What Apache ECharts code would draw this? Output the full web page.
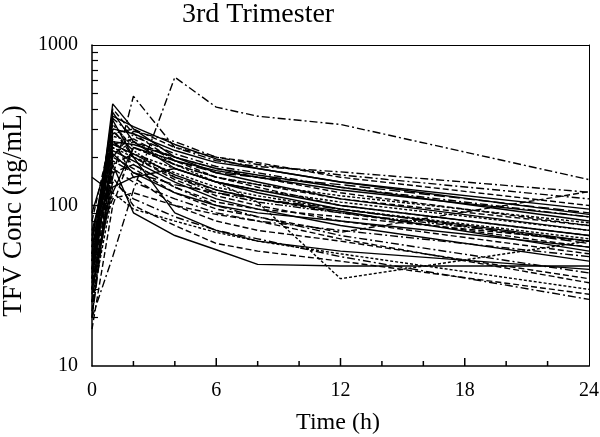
<!DOCTYPE html>
<html>
<head>
<meta charset="utf-8">
<script src="https://cdn.jsdelivr.net/npm/echarts@6/dist/echarts.min.js"></script>
<style>
  html, body { margin: 0; padding: 0; background: #fff; }
  #main { width: 600px; height: 437px; }
</style>
</head>
<body>
<div id="main"></div>
<script>
var myChart = echarts.init(document.getElementById('main'));

// sampling times (h)
var times = [0, 1, 2, 4, 6, 8, 12, 24];

// TFV concentration (ng/mL) per subject, one value per sampling time
var s01 = [20, 48, 125, 630, 410, 360, 320, 145];
var s02 = [30, 150, 480, 230, 190, 175, 162, 121];
var s03 = [40, 430, 300, 200, 160, 140, 110, 70];
var s04 = [25, 400, 280, 190, 150, 130, 100, 65];
var s05 = [50, 380, 250, 170, 140, 120, 95, 60];
var s06 = [35, 350, 270, 210, 175, 160, 130, 85];
var s07 = [60, 320, 230, 180, 150, 135, 115, 78];
var s08 = [45, 300, 280, 220, 185, 170, 140, 95];
var s09 = [30, 280, 300, 230, 200, 185, 150, 100];
var s10 = [150, 120, 230, 190, 165, 150, 125, 85];
var s11 = [20, 250, 200, 150, 125, 110, 90, 55];
var s12 = [55, 240, 260, 190, 160, 150, 135, 90];
var s13 = [35, 220, 190, 140, 110, 95, 75, 45];
var s14 = [40, 200, 290, 250, 200, 180, 155, 110];
var s15 = [25, 180, 210, 170, 140, 125, 105, 70];
var s16 = [70, 210, 160, 120, 100, 90, 80, 55];
var s17 = [45, 160, 180, 130, 105, 95, 85, 60];
var s18 = [30, 130, 150, 170, 140, 125, 100, 65];
var s19 = [50, 290, 220, 150, 120, 105, 90, 60];
var s20 = [17, 100, 230, 180, 150, 135, 110, 75];
var s21 = [60, 340, 200, 90, 70, 60, 52, 40];
var s22 = [40, 260, 150, 100, 80, 70, 60, 35];
var s23 = [45, 180, 90, 65, 53, 43, 42, 42];
var s24 = [30, 150, 100, 75, 58, 52, 45, 28];
var s25 = [25, 120, 95, 80, 68, 60, 50, 30];
var s26 = [55, 230, 180, 130, 100, 85, 65, 38];
var s27 = [35, 270, 250, 180, 140, 105, 35, 60];
var s28 = [30, 200, 170, 120, 95, 85, 68, 122];
var s29 = [65, 250, 240, 200, 170, 155, 130, 80];
var s30 = [20, 190, 160, 135, 120, 110, 95, 58];
var s31 = [80, 300, 200, 145, 115, 100, 80, 50];
var s32 = [28, 170, 140, 110, 90, 80, 70, 48];
var s33 = [38, 360, 310, 240, 195, 170, 140, 88];
var s34 = [48, 230, 200, 160, 130, 115, 95, 62];
var s35 = [22, 210, 250, 200, 170, 150, 120, 75];
var s36 = [90, 240, 210, 155, 125, 110, 92, 52];
var s37 = [33, 140, 110, 85, 70, 62, 48, 26];
var s38 = [50, 110, 120, 100, 88, 80, 62, 33];

var subjects = [s01, s02, s03, s04, s05, s06, s07, s08, s09, s10,
                s11, s12, s13, s14, s15, s16, s17, s18, s19, s20,
                s21, s22, s23, s24, s25, s26, s27, s28, s29, s30,
                s31, s32, s33, s34, s35, s36, s37, s38];

// axis ticks
var xLabels = [0, 6, 12, 18, 24];
var xMajor = [6, 12, 18];
var xMinor = [2, 4, 8, 10, 14, 16, 20, 22];
var yMajor = [10, 100, 1000];
var yMinor = [20, 30, 40, 50, 60, 70, 80, 90, 200, 300, 400, 500, 600, 700, 800, 900];

// line patterns: 0 solid, 1 dashed, 2 short dash, 3 dash-dot, 4 long dash, 5 dash-dot-dot
var dashes = ['solid', [6, 3], [3, 2], [8, 3, 2, 3], [11, 4], [8, 2, 2, 2, 2, 2]];
var kinds = [3, 3, 0, 1, 0, 3, 2, 0, 1, 0,
             1, 4, 0, 3, 2, 0, 1, 0, 5, 1,
             0, 1, 0, 1, 2, 3, 2, 1, 0, 4,
             1, 3, 0, 2, 1, 0, 3, 1];

var font = '"Liberation Serif", "DejaVu Serif", serif';
var black = '#000';

var series = subjects.map(function (vals, i) {
    return {
        type: 'line',
        symbol: 'none',
        silent: true,
        xAxisIndex: 0,
        yAxisIndex: 0,
        data: vals.map(function (v, j) { return [times[j], v]; }),
        lineStyle: { color: black, width: 1.4, type: dashes[kinds[i]] }
    };
});

// inward ticks on the x axis (and the one at 100 on y), placed through the axes' own scales
// item: [x, y, direction (0 = up, 1 = right), length]
var tickItems = []
    .concat(xMinor.map(function (t) { return [t, 10, 0, 5]; }))
    .concat(xMajor.map(function (t) { return [t, 10, 0, 8]; }))
    .concat([[0, yMajor[1], 1, 8]]);

series.push({
    type: 'custom',
    silent: true,
    clip: false,
    xAxisIndex: 0,
    yAxisIndex: 0,
    encode: { x: 0, y: 1 },
    data: tickItems,
    renderItem: function (params, api) {
        var p = api.coord([api.value(0), api.value(1)]);
        var len = api.value(3);
        var shape = api.value(2) === 0
            ? { x1: p[0], y1: p[1], x2: p[0], y2: p[1] - len }
            : { x1: p[0], y1: p[1], x2: p[0] + len, y2: p[1] };
        return { type: 'line', shape: shape, style: { stroke: black, lineWidth: 1.5 } };
    }
});

// bare axis used only for the frame line on top / right
function frameAxis(type, pos, min, max) {
    return {
        type: type, min: min, max: max, position: pos,
        axisLine: { show: true, lineStyle: { color: black, width: 1 } },
        axisTick: { show: false },
        axisLabel: { show: false },
        splitLine: { show: false }
    };
}

option = {
    animation: false,
    backgroundColor: '#fff',
    title: {
        text: '3rd Trimester',
        left: 177,
        top: -4,
        textStyle: { fontFamily: font, fontSize: 28, fontWeight: 'normal', color: black }
    },
    graphic: [{
        type: 'text',
        x: 338, y: 423,
        style: { text: 'Time (h)', font: '24px ' + font, fill: black, align: 'center', verticalAlign: 'middle' }
    }, {
        type: 'text',
        x: 14, y: 211,
        rotation: Math.PI / 2,
        style: { text: 'TFV Conc (ng/mL)', font: '27px ' + font, fill: black, align: 'center', verticalAlign: 'middle' }
    }],
    grid: {
        left: 92, right: 11, top: 45, bottom: 71,
        outerBoundsMode: 'none'
    },
    xAxis: [{
        type: 'value',
        min: 0, max: 24, interval: 6,
        axisLine: { show: true, lineStyle: { color: black, width: 1.5 } },
        axisTick: { show: false },
        axisLabel: {
            margin: 15,
            fontFamily: font, fontSize: 20, color: black,
            customValues: xLabels
        },
        splitLine: { show: false }
    }, frameAxis('value', 'top', 0, 24)],
    yAxis: [{
        type: 'log',
        logBase: 10,
        min: 10, max: 1000,
        axisLine: { show: true, lineStyle: { color: black, width: 1.5 } },
        axisTick: { show: false },
        axisLabel: {
            margin: 14,
            fontFamily: font, fontSize: 20, color: black,
            customValues: yMajor,
            formatter: function (v) { return String(Math.round(v)); }
        },
        splitLine: { show: false }
    }, {
        // helper axis in log10 units, only to draw the minor ticks 20..90, 200..900
        type: 'value',
        min: 1, max: 3,
        position: 'left',
        axisLine: { show: false },
        axisTick: {
            show: true, inside: true, length: 6,
            customValues: yMinor.map(function (v) { return Math.log10(v); }),
            lineStyle: { color: black, width: 1.2 }
        },
        axisLabel: { show: false },
        splitLine: { show: false }
    }, frameAxis('value', 'right', 1, 3)],
    series: series
};

myChart.setOption(option);

window.onresize = function () {
    myChart.resize();
};
</script>
</body>
</html>
